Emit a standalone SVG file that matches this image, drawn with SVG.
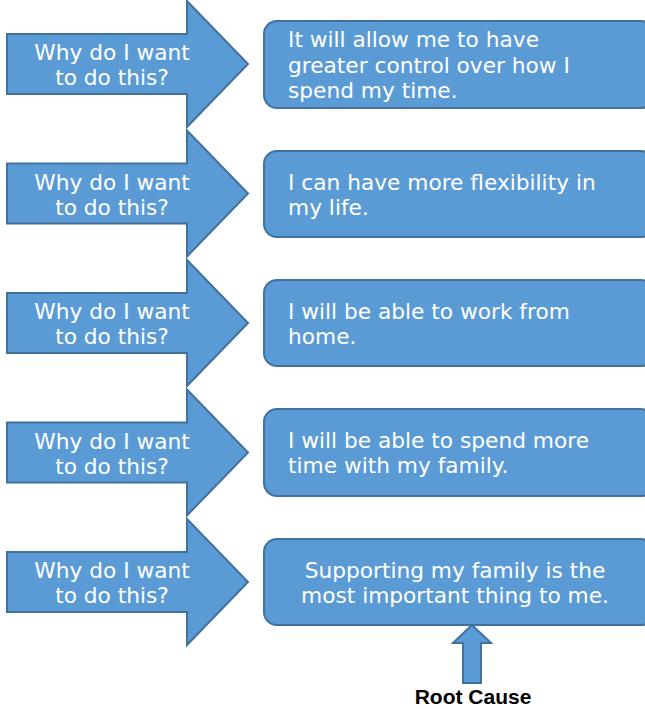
<svg xmlns="http://www.w3.org/2000/svg" width="645" height="709" viewBox="0 0 645 709">
<defs>
<style>
.shape{fill:#5B9BD5;stroke:#41719C;stroke-width:2;stroke-linejoin:miter}
.t{font-family:"DejaVu Sans",Verdana,sans-serif;font-size:21.7px;fill:#FFFFFF}
.c{text-anchor:middle}
.rc{font-family:"Liberation Sans",Arial,sans-serif;font-size:21px;font-weight:bold;fill:#000000;text-anchor:middle}
</style>
<path id="arr" class="shape" d="M7,-30 H187 V-63 L248,0 L187,63 V30 H7 Z"/>
</defs>
<g id="arrow1" transform="translate(0,64)"><use href="#arr"/><text class="t c" x="112" y="-4">Why do I want</text><text class="t c" x="112" y="21">to do this?</text></g>
<g id="arrow2" transform="translate(0,193.5)"><use href="#arr"/><text class="t c" x="112" y="-4">Why do I want</text><text class="t c" x="112" y="21">to do this?</text></g>
<g id="arrow3" transform="translate(0,323)"><use href="#arr"/><text class="t c" x="112" y="-4">Why do I want</text><text class="t c" x="112" y="21">to do this?</text></g>
<g id="arrow4" transform="translate(0,452.5)"><use href="#arr"/><text class="t c" x="112" y="-4">Why do I want</text><text class="t c" x="112" y="21">to do this?</text></g>
<g id="arrow5" transform="translate(0,582)"><use href="#arr"/><text class="t c" x="112" y="-4">Why do I want</text><text class="t c" x="112" y="21">to do this?</text></g>
<g id="box1"><rect class="shape" x="264" y="21" width="390" height="87" rx="13"/><text class="t" x="288" y="47">It will allow me to have</text><text class="t" x="288" y="73">greater control over how I</text><text class="t" x="288" y="98">spend my time.</text></g>
<g id="box2"><rect class="shape" x="264" y="151" width="390" height="86" rx="13"/><text class="t" x="288" y="190">I can have more flexibility in</text><text class="t" x="288" y="215">my life.</text></g>
<g id="box3"><rect class="shape" x="264" y="280" width="390" height="86" rx="13"/><text class="t" x="288" y="319">I will be able to work from</text><text class="t" x="288" y="344">home.</text></g>
<g id="box4"><rect class="shape" x="264" y="409" width="390" height="87" rx="13"/><text class="t" x="288" y="448">I will be able to spend more</text><text class="t" x="288" y="473">time with my family.</text></g>
<g id="box5"><rect class="shape" x="264" y="539" width="390" height="86" rx="13"/><text class="t c" x="455" y="578">Supporting my family is the</text><text class="t c" x="455" y="603">most important thing to me.</text></g>
<g id="connectors"><path class="shape" d="M472,625 L491,643 H481 V683 H463 V643 H453 Z"/></g>
<g id="rootcause"><text class="rc" x="473" y="704">Root Cause</text></g>
</svg>
